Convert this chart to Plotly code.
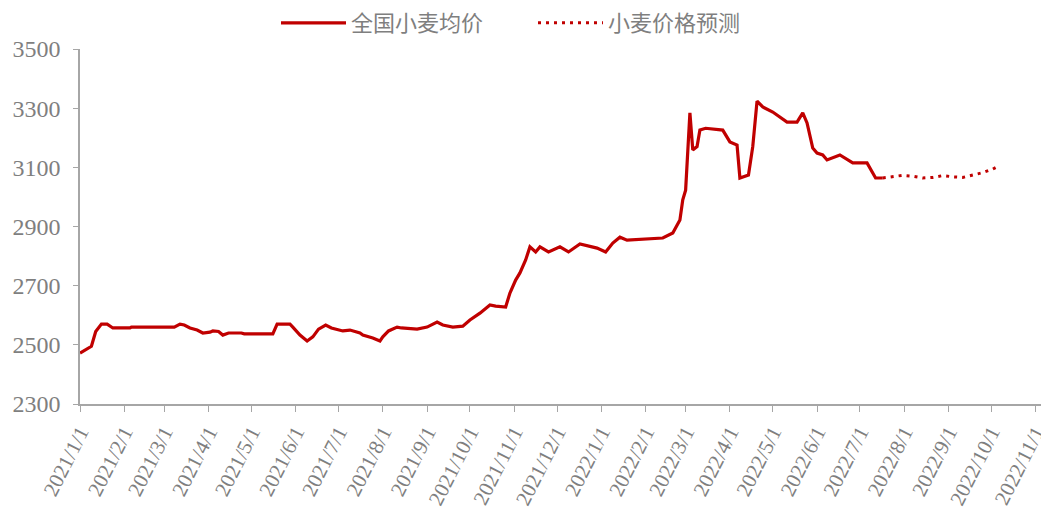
import plotly.graph_objects as go

# 全国小麦均价 (actual)
actual_dates = [
    "2021-01-01", "2021-01-06", "2021-01-09", "2021-01-12", "2021-01-16", "2021-01-20",
    "2021-01-24", "2021-02-05", "2021-02-06", "2021-03-08", "2021-03-12", "2021-03-15",
    "2021-03-19", "2021-03-24", "2021-03-28", "2021-04-02", "2021-04-04", "2021-04-08",
    "2021-04-11", "2021-04-15", "2021-04-24", "2021-04-26", "2021-05-16", "2021-05-19",
    "2021-05-28", "2021-05-30", "2021-06-04", "2021-06-09", "2021-06-13", "2021-06-17",
    "2021-06-22", "2021-06-26", "2021-07-04", "2021-07-09", "2021-07-16", "2021-07-18",
    "2021-07-25", "2021-07-30", "2021-08-01", "2021-08-05", "2021-08-11", "2021-08-14",
    "2021-08-25", "2021-09-01", "2021-09-08", "2021-09-12", "2021-09-19", "2021-09-26",
    "2021-10-01", "2021-10-08", "2021-10-15", "2021-10-19", "2021-10-26", "2021-10-29",
    "2021-11-02", "2021-11-05", "2021-11-09", "2021-11-12", "2021-11-16", "2021-11-19",
    "2021-11-25", "2021-12-03", "2021-12-09", "2021-12-17", "2021-12-24", "2021-12-29",
    "2022-01-04", "2022-01-09", "2022-01-14", "2022-01-19", "2022-02-13", "2022-02-20",
    "2022-02-25", "2022-02-27", "2022-03-01", "2022-03-03", "2022-03-04", "2022-03-06",
    "2022-03-09", "2022-03-11", "2022-03-15", "2022-03-27", "2022-04-01", "2022-04-06",
    "2022-04-08", "2022-04-14", "2022-04-17", "2022-04-20", "2022-04-24", "2022-05-01",
    "2022-05-11", "2022-05-18", "2022-05-22", "2022-05-25", "2022-05-29", "2022-06-01",
    "2022-06-05", "2022-06-08", "2022-06-17", "2022-06-26", "2022-07-06", "2022-07-12",
    "2022-07-17",
]
actual_values = [
    2472, 2485, 2495, 2545, 2570, 2570,
    2557, 2557, 2560, 2560, 2570, 2567,
    2557, 2550, 2540, 2543, 2547, 2545,
    2533, 2540, 2540, 2537, 2537, 2570,
    2570, 2560, 2533, 2513, 2527, 2553,
    2567, 2557, 2547, 2550, 2540, 2533,
    2523, 2513, 2527, 2547, 2560, 2557,
    2553, 2560, 2577, 2567, 2560, 2563,
    2584, 2607, 2635, 2631, 2628, 2675,
    2719, 2743, 2787, 2831, 2814, 2831,
    2814, 2831, 2814, 2841, 2834, 2827,
    2814, 2844, 2864, 2854, 2861, 2878,
    2922, 2990, 3023, 3200, 3284, 3159,
    3170, 3226, 3232, 3226, 3186, 3175,
    3064, 3074, 3170, 3324, 3304, 3287,
    3253, 3253, 3284, 3250, 3165, 3148,
    3142, 3125, 3142, 3115, 3115, 3064,
    3064,
]

# 小麦价格预测 (forecast)
forecast_dates = [
    "2022-07-17", "2022-07-24", "2022-07-31", "2022-08-07", "2022-08-14", "2022-08-21",
    "2022-08-28", "2022-09-04", "2022-09-11", "2022-09-18", "2022-09-25", "2022-10-02",
    "2022-10-07",
]
forecast_values = [
    3064, 3068, 3073, 3070, 3064, 3066,
    3072, 3068, 3066, 3074, 3082, 3094,
    3106,
]

y_ticks = [2300, 2500, 2700, 2900, 3100, 3300, 3500]

RED = "#C00000"
GREY = "#7f7f7f"

W, H = 1041, 507
L, R, T, B = 72, 2, 41, 111
plot_w = W - L - R
plot_h = H - T - B

fig = go.Figure()
fig.add_trace(go.Scatter(
    x=actual_dates, y=actual_values, mode="lines", name="全国小麦均价",
    line=dict(color=RED, width=3.2), legend="legend",
))
fig.add_trace(go.Scatter(
    x=forecast_dates, y=forecast_values, mode="lines", name="小麦价格预测",
    line=dict(color=RED, width=3, dash="3px,5px"), legend="legend2",
))

legend_font = dict(family="Noto Sans CJK SC", size=22, color="#7f7f7f")
legend_y = 1 + 26 / plot_h

fig.update_layout(
    width=W, height=H,
    margin=dict(l=L, r=R, t=T, b=B, autoexpand=False),
    paper_bgcolor="white", plot_bgcolor="white",
    showlegend=True,
    legend=dict(
        orientation="h", x=(268 - L) / plot_w, xanchor="left",
        y=legend_y, yanchor="middle", font=legend_font, itemwidth=65,
    ),
    legend2=dict(
        orientation="h", x=(525 - L) / plot_w, xanchor="left",
        y=legend_y, yanchor="middle", font=legend_font, itemwidth=65,
    ),
    xaxis=dict(
        type="date",
        range=["2021-01-01", "2022-11-09"],
        tick0="2021-01-01", dtick="M1",
        tickformat="%Y/%-m/%-d",
        tickangle=-63,
        ticks="outside", ticklen=6, tickcolor="#a6a6a6",
        showline=True, linecolor="#a6a6a6", linewidth=1.5,
        showgrid=False, zeroline=False, automargin=False,
        ticklabeloverflow="allow",
        tickfont=dict(family="Liberation Serif", size=21, color=GREY),
    ),
    yaxis=dict(
        range=[2300, 3500],
        tickvals=y_ticks,
        ticks="outside", ticklen=5, tickcolor="#a6a6a6",
        showline=True, linecolor="#a6a6a6", linewidth=1.5,
        showgrid=False, zeroline=False, automargin=False,
        ticklabelstandoff=8,
        tickfont=dict(family="Liberation Serif", size=24, color=GREY),
    ),
)

fig.write_html("out.html")
